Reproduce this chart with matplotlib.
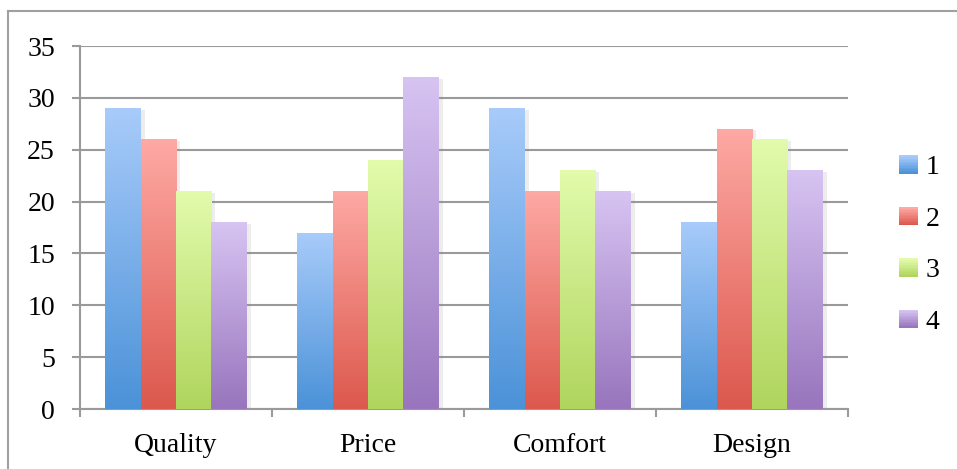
import numpy as np
import matplotlib.pyplot as plt
import matplotlib.patheffects as pe
from matplotlib.colors import LinearSegmentedColormap
from matplotlib.lines import Line2D
from matplotlib.legend_handler import HandlerBase

categories = ["Quality", "Price", "Comfort", "Design"]
series_names = ["1", "2", "3", "4"]
s1 = [29, 17, 29, 18]
s2 = [26, 21, 21, 27]
s3 = [21, 24, 23, 26]
s4 = [18, 32, 21, 23]
yticks = [0, 5, 10, 15, 20, 25, 30, 35]

# (top colour, bottom colour) for each series
grads = [
    ("#a8cbfa", "#4b92d8"),
    ("#fea9a4", "#dc584d"),
    ("#e2fbac", "#b0d55e"),
    ("#d7c4f2", "#9875bd"),
]


class GradientHandler(HandlerBase):
    # legend swatch made of thin horizontal strips, light at top
    def create_artists(self, legend, orig_handle, xdescent, ydescent,
                       width, height, fontsize, trans):
        cmap = orig_handle.cmap
        n = 12
        size = min(width, height)
        x0 = -xdescent
        y0 = -ydescent + (height - size) / 2
        arts = []
        for k in range(n):
            r = plt.Rectangle((x0, y0 + k * size / n), size, size / n + 0.3,
                              facecolor=cmap(k / (n - 1)), edgecolor="none",
                              transform=trans)
            arts.append(r)
        return arts


plt.rcParams["font.family"] = ["Liberation Serif", "DejaVu Serif"]
plt.rcParams["font.size"] = 20

fig = plt.figure(figsize=(9.57, 4.69), dpi=100)
ax = fig.add_axes([80 / 957, 60 / 469, 768 / 957, 363 / 469])

grid_c = "#9a9a9a"
x = np.arange(len(categories))
w = 0.184
values = [s1, s2, s3, s4]

grad = np.linspace(1, 0, 256).reshape(-1, 1)
handles = []
for i, vals in enumerate(values):
    top, bot = grads[i]
    cmap = LinearSegmentedColormap.from_list("g%d" % i, [bot, top])
    bars = ax.bar(x + (i - 1.5) * w, vals, w, color="white", zorder=3,
                  linewidth=0)
    for b in bars:
        b.set_path_effects([pe.SimplePatchShadow(offset=(3, -1), shadow_rgbFace="#888888", alpha=0.15),
                            pe.Normal()])
        bx, by = b.get_x(), b.get_y()
        im = ax.imshow(grad, cmap=cmap, aspect="auto", zorder=4,
                       extent=(bx, bx + b.get_width(), by, by + b.get_height()),
                       vmin=0, vmax=1)
        im.set_clip_path(b)
    handles.append(im)

ax.set_xlim(-0.5, 3.5)
ax.set_ylim(0, 35)
ax.set_yticks(yticks)
ax.set_xticks(x)
ax.set_xticklabels(categories)
ax.set_xticks(np.arange(-0.5, 4, 1), minor=True)
ax.tick_params(axis="x", which="major", length=0, pad=17)
ax.tick_params(axis="x", which="minor", length=6, width=1.5, color=grid_c)
ax.tick_params(axis="y", length=6, width=1.5, color=grid_c, pad=12)

ax.yaxis.grid(True, color=grid_c, linewidth=1.5, zorder=1)
ax.set_axisbelow(True)
for s in ["top", "right"]:
    ax.spines[s].set_visible(False)
for s in ["left", "bottom"]:
    ax.spines[s].set_color(grid_c)
    ax.spines[s].set_linewidth(1.5)

fig.legend(handles, series_names, loc="upper left",
           handler_map={type(handles[0]): GradientHandler()},
           bbox_to_anchor=(880 / 957, 1 - 136 / 469), frameon=False,
           handlelength=0.65, handleheight=0.65, handletextpad=0.3,
           labelspacing=0.95, fontsize=20, borderpad=0.2)

# chart area border (only left and top edges fall inside the image)
fig.add_artist(Line2D([8 / 957, 8 / 957], [0, 1 - 11 / 469], transform=fig.transFigure,
                      color="#a0a0a0", linewidth=1.5))
fig.add_artist(Line2D([8 / 957, 1], [1 - 11 / 469, 1 - 11 / 469], transform=fig.transFigure,
                      color="#a0a0a0", linewidth=1.5))

fig.savefig("out.png", dpi=100)
